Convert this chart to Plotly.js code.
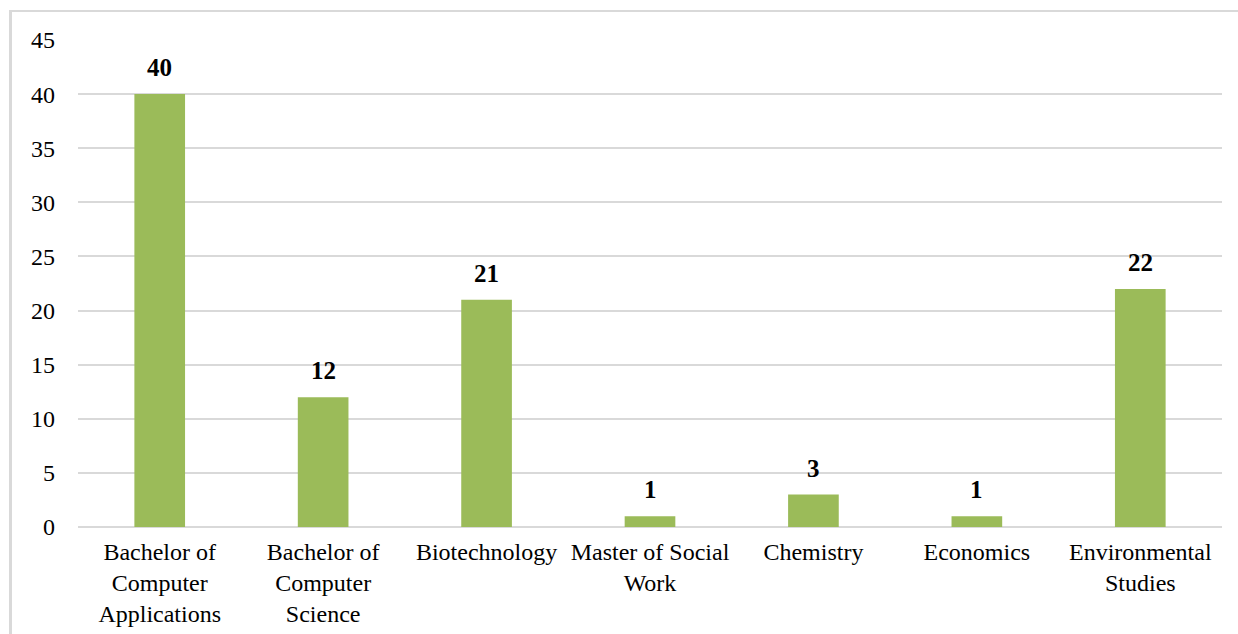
<!DOCTYPE html>
<html>
<head>
<meta charset="utf-8">
<script src="https://cdn.plot.ly/plotly-3.0.1.min.js"></script>
<style>
html, body { margin: 0; padding: 0; background: #fff; overflow: hidden; }
#wrap { position: relative; width: 1238px; height: 634px; }
#chart { width: 1238px; height: 634px; }
#frame { position: absolute; left: 9px; top: 10px; width: 1400px; height: 800px;
  border-left: 3px solid #d9d9d9; border-top: 2px solid #d9d9d9; pointer-events: none; }
</style>
</head>
<body>
<div id="wrap">
<div id="chart"></div>
<div id="frame"></div>
</div>
<script>
const categories = [
  "Bachelor of<br>Computer<br>Applications",
  "Bachelor of<br>Computer<br>Science",
  "Biotechnology",
  "Master of Social<br>Work",
  "Chemistry",
  "Economics",
  "Environmental<br>Studies"
];
const counts = [40, 12, 21, 1, 3, 1, 22];
const yTicks = [0, 5, 10, 15, 20, 25, 30, 35, 40, 45];

const fontFamily = '"Liberation Serif", "Times New Roman", serif';

const trace = {
  type: 'bar',
  x: categories,
  y: counts,
  marker: { color: '#9BBB59' },
  width: 0.31,
  hoverinfo: 'x+y'
};

const annotations = categories.map((c, i) => ({
  x: c, y: counts[i], xref: 'x', yref: 'y',
  text: '<b>' + counts[i] + '</b>',
  showarrow: false, yanchor: 'bottom', yshift: 11,
  font: { family: fontFamily, size: 25, color: '#000' }
}));

const layout = {
  width: 1238, height: 634,
  margin: { l: 78, r: 16, t: 40, b: 107 },
  paper_bgcolor: '#fff', plot_bgcolor: '#fff',
  showlegend: false,
  bargap: 0.69,
  font: { family: fontFamily, size: 24, color: '#000' },
  xaxis: {
    type: 'category',
    showgrid: false, zeroline: false, showline: false,
    ticks: '', tickfont: { family: fontFamily, size: 24, color: '#000' },
    ticklabelstandoff: 8
  },
  yaxis: {
    range: [0, 45], tickvals: yTicks, ticktext: yTicks.map(String),
    showgrid: true, gridcolor: '#d9d9d9', gridwidth: 2,
    zeroline: true, zerolinecolor: '#d9d9d9', zerolinewidth: 2,
    showline: false, ticks: '',
    tickfont: { family: fontFamily, size: 24, color: '#000' },
    ticklabelstandoff: 22
  },
  annotations: annotations
};

Plotly.newPlot('chart', [trace], layout, { displayModeBar: false, staticPlot: true });
</script>
</body>
</html>
